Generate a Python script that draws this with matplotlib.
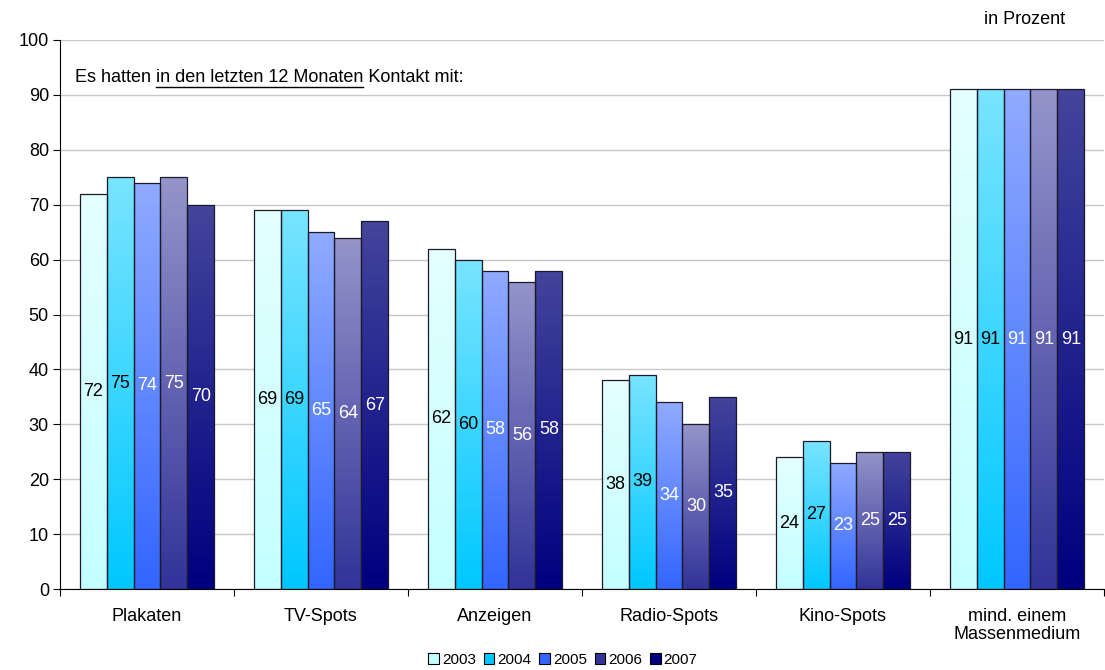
import matplotlib
matplotlib.use("Agg")
import matplotlib.pyplot as plt
import matplotlib.colors as mcolors
from matplotlib.patches import Patch
import numpy as np

categories = ["Plakaten", "TV-Spots", "Anzeigen", "Radio-Spots", "Kino-Spots",
              "mind. einem\nMassenmedium"]
years = ["2003", "2004", "2005", "2006", "2007"]
values = {
    "2003": [72, 69, 62, 38, 24, 91],
    "2004": [75, 69, 60, 39, 27, 91],
    "2005": [74, 65, 58, 34, 23, 91],
    "2006": [75, 64, 56, 30, 25, 91],
    "2007": [70, 67, 58, 35, 25, 91],
}
# gradient colours per year: (top, bottom)
grad = {
    "2003": ("#E4FFFF", "#C4FFFF"),
    "2004": ("#78E4FF", "#00C8FF"),
    "2005": ("#90AAFF", "#3366FF"),
    "2006": ("#9494CA", "#333399"),
    "2007": ("#44449C", "#000080"),
}
label_colors = ["black", "black", "white", "white", "white"]

plt.rcParams["font.family"] = ["Liberation Sans", "DejaVu Sans"]
FS = 13

fig = plt.figure(figsize=(11.05, 6.7), dpi=100)
ax = fig.add_axes([60 / 1105, 1 - 589 / 670, 1044 / 1105, 549 / 670])

n = len(categories)
bw = 0.155
x = np.arange(n)

for i, yr in enumerate(years):
    offs = (i - 2) * bw
    bars = ax.bar(x + offs, values[yr], width=bw, facecolor="none",
                  edgecolor="#1a1a2a", linewidth=0.9, zorder=3)
    cmap = mcolors.LinearSegmentedColormap.from_list(yr, [grad[yr][1], grad[yr][0]])
    for b, v in zip(bars, values[yr]):
        x0 = b.get_x()
        img = ax.imshow(np.linspace(0, 1, 100).reshape(-1, 1), cmap=cmap,
                        origin="lower", aspect="auto",
                        extent=[x0, x0 + bw, 0, v], zorder=2)
        img.set_clip_path(b)
        ax.text(x0 + bw / 2, v / 2, str(v), ha="center", va="center",
                fontsize=FS, color=label_colors[i], zorder=4)

ax.set_xlim(-0.5, n - 0.5)
ax.set_ylim(0, 100)
ax.set_yticks(range(0, 101, 10))
ax.tick_params(axis="y", labelsize=FS, length=5, width=0.8, pad=3)
ax.set_xticks(x)
ax.set_xticklabels(categories, fontsize=FS, linespacing=1.05)
ax.tick_params(axis="x", length=0, pad=14)
ax.set_xticks(np.arange(-0.5, n, 1), minor=True)
ax.tick_params(axis="x", which="minor", length=5, width=0.8)
ax.grid(axis="y", color="#c8c8c8", linewidth=1, zorder=0)
ax.set_axisbelow(True)
for s in ["top", "right"]:
    ax.spines[s].set_visible(False)
ax.spines["left"].set_linewidth(0.8)
ax.spines["bottom"].set_linewidth(0.8)

# header text with underlined middle part
fig.canvas.draw()
renderer = fig.canvas.get_renderer()


def text_width(s):
    t = fig.text(0, 0, s, fontsize=FS)
    w = t.get_window_extent(renderer).width
    t.remove()
    return w


header = "Es hatten in den letzten 12 Monaten Kontakt mit:"
lead = "Es hatten in den letzten 12 Monaten"
under = "in den letzten 12 Monaten"
x0 = 75
ypix = 670 - 78
fig.text(x0 / 1105, ypix / 670, header, fontsize=FS, va="center", ha="left")
u_end = x0 + text_width(lead)
u_start = u_end - text_width(under)
fig.add_artist(plt.Line2D([u_start / 1105, u_end / 1105],
                          [(ypix - 9) / 670, (ypix - 9) / 670],
                          color="black", linewidth=1))

fig.text(1025 / 1105, 1 - 20 / 670, "in Prozent", fontsize=FS, ha="center", va="center")

handles = [Patch(facecolor=grad[y][1], edgecolor="black", linewidth=0.8, label=y)
           for y in years]
fig.legend(handles=handles, loc="center", bbox_to_anchor=(563 / 1105, 1 - 660 / 670),
           ncol=5, frameon=False, fontsize=11, handlelength=0.7, handleheight=0.7,
           handletextpad=0.2, columnspacing=0.5, borderpad=0)

fig.savefig("out.png", dpi=100)
